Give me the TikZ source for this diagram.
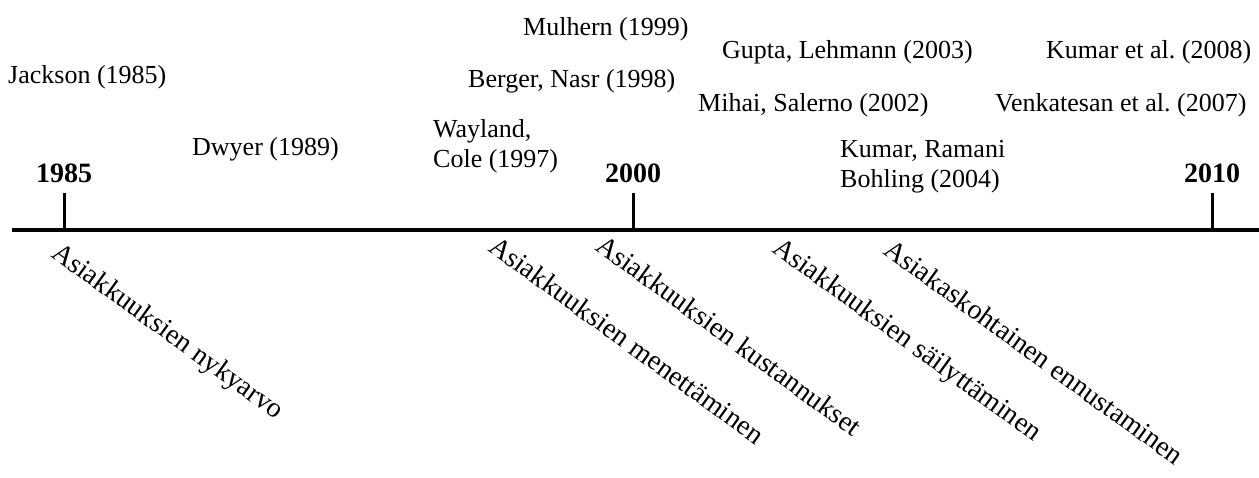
\documentclass[tikz,border=0pt]{standalone}
\usepackage{fontspec}
\setmainfont{Liberation Serif}

\begin{document}
\begin{tikzpicture}[
            x=1pt,
            y=-1pt,
            event/.style={anchor=base west,inner sep=0pt,font=\fontsize{26}{30}\selectfont},
            year/.style={anchor=base,inner sep=0pt,font=\fontsize{28}{32}\selectfont\bfseries},
            theme/.style={anchor=base west,inner sep=0pt,rotate=-36,font=\fontsize{28}{32}\selectfont}
        ]
            \useasboundingbox (0,0) rectangle (1259,477);

            \coordinate (left) at (12,230);
            \coordinate (right) at (1259,230);
            \draw[line width=4pt] (left) -- (right);

            \foreach \x/\yr in {64/1985,633/2000,1212/2010} {
                \coordinate (t\yr) at (\x,230);
                \draw[line width=3pt] (t\yr) -- ++(0,-37);
                \node[year] (y\yr) at (\x,182) {\yr};
            }

            \foreach \x/\y/\t [count=\i] in {8/83/{Jackson (1985)},192/155/{Dwyer (1989)},
                523/35/{Mulhern (1999)},468/87/{Berger, Nasr (1998)},
                722/58/{Gupta, Lehmann (2003)},698/111/{Mihai, Salerno (2002)},
                1046/58/{Kumar et al.\ (2008)},995/111/{Venkatesan et al.\ (2007)}} {
                \node[event] (ev\i) at (\x,\y) {\t};
            }
            \node[event,anchor=north west,align=left] (wayland) at (433,119) {Wayland,\\Cole (1997)};
            \node[event,anchor=north west,align=left] (ramani) at (840,140) {Kumar, Ramani\\Bohling (2004)};

            \foreach \x/\y/\t [count=\i] in {50/256/{Asiakkuuksien nykyarvo},
                487/250/{Asiakkuuksien menettäminen},594/249/{Asiakkuuksien kustannukset},
                771/251/{Asiakkuuksien säilyttäminen},882/253/{Asiakaskohtainen ennustaminen}} {
                \node[theme] (th\i) at (\x,\y) {\t};
            }
        \end{tikzpicture}
\end{document}
